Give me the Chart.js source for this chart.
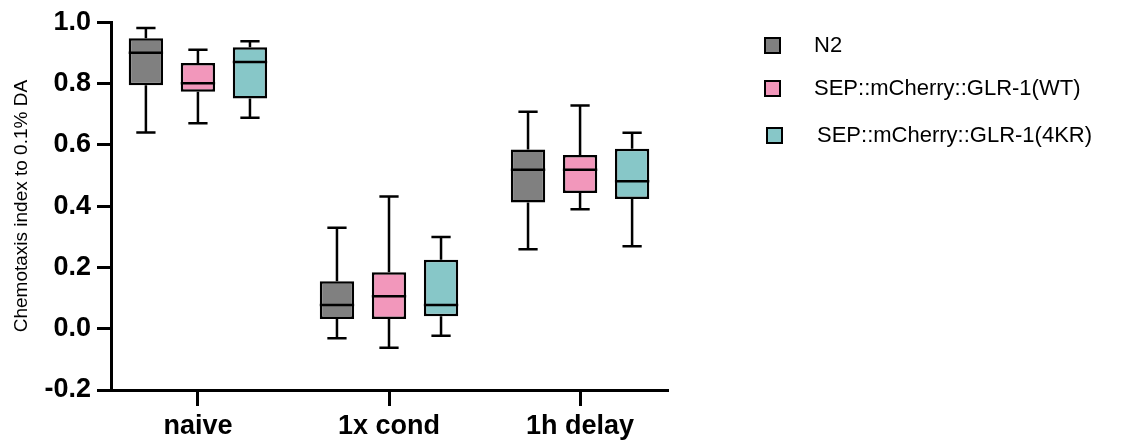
<!DOCTYPE html>
<html>
<head>
<meta charset="utf-8">
<script src="https://cdn.jsdelivr.net/npm/chart.js@4/dist/chart.umd.min.js"></script>
<style>
  html, body { margin: 0; padding: 0; background: #fff; }
  #wrap { position: relative; width: 1132px; height: 446px; }
</style>
</head>
<body>
<div id="wrap"><canvas id="chart" width="1132" height="446"></canvas></div>
<script>
// Groups on the x axis
const categories = ['naive', '1x cond', '1h delay'];
const seriesNames = ['N2', 'SEP::mCherry::GLR-1(WT)', 'SEP::mCherry::GLR-1(4KR)'];
const seriesColors = ['#808080', '#f297bb', '#87c7c8'];

// Five-number summaries per group: [min, q1, median, q3, max]
const n2Stats = [
    [0.64, 0.794, 0.90, 0.948, 0.981],
    [-0.031, 0.032, 0.077, 0.155, 0.329],
    [0.259, 0.412, 0.519, 0.585, 0.708],
];
const wtStats = [
    [0.67, 0.773, 0.801, 0.867, 0.91],
    [-0.062, 0.032, 0.106, 0.184, 0.431],
    [0.39, 0.443, 0.519, 0.567, 0.728],
];
const kr4Stats = [
    [0.688, 0.751, 0.87, 0.918, 0.938],
    [-0.023, 0.041, 0.077, 0.225, 0.299],
    [0.269, 0.423, 0.481, 0.587, 0.639],
];
const allStats = [n2Stats, wtStats, kr4Stats];

const yTickMin = -0.2;
const yTickMax = 1.0;
const yTickStep = 0.2;

const tickFont = { family: 'Arial, "Liberation Sans", sans-serif', size: 27, weight: 'bold' };

// Whiskers and medians drawn over the floating bars
const boxPlotExtras = {
    id: 'boxPlotExtras',
    afterDatasetsDraw(chart) {
        const { ctx, scales: { y } } = chart;
        ctx.save();
        ctx.strokeStyle = '#000';
        ctx.lineWidth = 2.5;
        ctx.lineCap = 'butt';
        allStats.forEach((stats, i) => {
            const meta = chart.getDatasetMeta(i);
            meta.data.forEach((bar, j) => {
                const [min, q1, med, q3, max] = stats[j];
                const half = bar.width / 2;
                const cap = bar.width * 0.28;
                const yMin = y.getPixelForValue(min);
                const yQ1 = y.getPixelForValue(q1);
                const yMed = y.getPixelForValue(med);
                const yQ3 = y.getPixelForValue(q3);
                const yMax = y.getPixelForValue(max);
                ctx.beginPath();
                // median
                ctx.moveTo(bar.x - half, yMed); ctx.lineTo(bar.x + half, yMed);
                // upper whisker
                ctx.moveTo(bar.x, yQ3); ctx.lineTo(bar.x, yMax);
                ctx.moveTo(bar.x - cap, yMax); ctx.lineTo(bar.x + cap, yMax);
                // lower whisker
                ctx.moveTo(bar.x, yQ1); ctx.lineTo(bar.x, yMin);
                ctx.moveTo(bar.x - cap, yMin); ctx.lineTo(bar.x + cap, yMin);
                ctx.stroke();
            });
        });
        ctx.restore();
    }
};

// Legend on the right side
const sideLegend = {
    id: 'sideLegend',
    afterDraw(chart) {
        const { ctx } = chart;
        const rows = [45, 88, 135];
        ctx.save();
        ctx.font = '22px Arial, "Liberation Sans", sans-serif';
        ctx.textBaseline = 'middle';
        ctx.textAlign = 'left';
        seriesNames.forEach((name, i) => {
            const yc = rows[i];
            const xs = i === 2 ? 767 : 765;
            ctx.fillStyle = seriesColors[i];
            ctx.fillRect(xs, yc - 7, 15, 15);
            ctx.strokeStyle = '#000';
            ctx.lineWidth = 2;
            ctx.strokeRect(xs, yc - 7, 15, 15);
            ctx.fillStyle = '#000';
            ctx.fillText(name, i === 2 ? 817 : 814, yc + 1);
        });
        ctx.restore();
    }
};

const datasets = allStats.map((stats, i) => ({
    label: seriesNames[i],
    data: stats.map((s, j) => ({ x: j + 1, y: [s[1], s[3]] })),
    backgroundColor: seriesColors[i],
    borderColor: '#000',
    borderWidth: 2.5,
    borderSkipped: false,
    categoryPercentage: 0.817,
    barPercentage: 0.66,
}));

new Chart(document.getElementById('chart'), {
    type: 'bar',
    data: { datasets },
    options: {
        responsive: false,
        animation: false,
        layout: { padding: { top: 20, right: 465, left: 0, bottom: 0 } },
        plugins: { legend: { display: false }, tooltip: { enabled: false } },
        scales: {
            x: {
                type: 'linear',
                min: 0.545,
                max: 3.455,
                offset: false,
                afterBuildTicks: (scale) => {
                    scale.ticks = categories.map((c, i) => ({ value: i + 1 }));
                },
                afterFit: (scale) => { scale.height = 56; },
                grid: { display: true, offset: false, drawOnChartArea: false, drawTicks: true, tickLength: 16, lineWidth: 3, color: '#000' },
                border: { display: true, width: 3, color: '#000' },
                ticks: {
                    color: '#000',
                    font: tickFont,
                    padding: 4,
                    maxRotation: 0,
                    autoSkip: false,
                    callback: (v) => categories[Math.round(v) - 1],
                },
            },
            y: {
                min: yTickMin,
                max: yTickMax,
                afterFit: (scale) => { scale.width = 111; },
                grid: { display: true, drawOnChartArea: false, drawTicks: true, tickLength: 14, lineWidth: 3, color: '#000' },
                border: { display: true, width: 3, color: '#000' },
                ticks: {
                    stepSize: yTickStep,
                    color: '#000',
                    font: tickFont,
                    padding: 6,
                    callback: (v) => (Math.abs(v) < 1e-9 ? 0 : Number(v)).toFixed(1),
                },
                title: {
                    display: true,
                    text: 'Chemotaxis index to 0.1% DA',
                    color: '#000',
                    font: { family: 'Arial, "Liberation Sans", sans-serif', size: 19 },
                    padding: { top: 10, bottom: 0 },
                },
            },
        },
    },
    plugins: [boxPlotExtras, sideLegend],
});
</script>
</body>
</html>
